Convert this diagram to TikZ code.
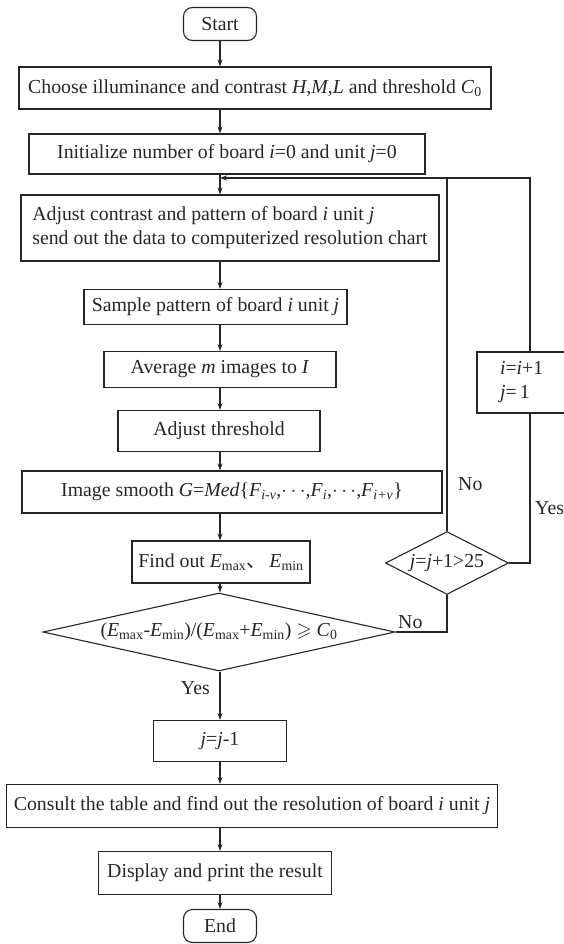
\documentclass[tikz,border=0pt]{standalone}
\usepackage{amssymb}
\usepackage{fontspec}
\setmainfont{Liberation Serif}
\newfontfamily\cjk{Noto Sans CJK SC}
\usetikzlibrary{shapes.geometric,arrows.meta}
\newcommand\myit[1]{\textit{#1}}
\begin{document}
\begin{tikzpicture}[x=1pt,y=-1pt,
  every node/.style={font=\fontsize{19.8}{24}\selectfont, text=black!85},
  box/.style={draw=black!85, line width=1.1pt, rectangle, inner sep=0pt, align=center},
  term/.style={draw=black!85, line width=1.1pt, rectangle, rounded corners=9pt, inner sep=0pt},
  dec/.style={draw=black!85, line width=1.1pt, diamond, inner sep=0pt},
  conn/.style={draw=black!85, line width=1.1pt},
  arr/.style={conn, -{Stealth[length=7pt,width=5pt]}},
  lbl/.style={inner sep=0pt}]
\useasboundingbox (0,0) rectangle (563,944);
\coordinate (ax) at (220,0);
\coordinate (m) at (220,178);

\node[term, minimum width=73pt, minimum height=33pt] (start) at (220,24) {Start};
\node[box, minimum width=472pt, minimum height=42pt] (b1) at (255,88)
  {Choose illuminance and contrast \myit{H},\myit{M},\myit{L} and threshold \myit{C}\textsubscript{0}};
\node[box, minimum width=396pt, minimum height=40pt] (b2) at (227,154)
  {Initialize number of board \myit{i}=0 and unit \myit{j}=0};
\node[box, minimum width=418pt, minimum height=66pt, align=left] (b3) at (230,228)
  {Adjust contrast and pattern of board \myit{i} unit \myit{j}\\send out the data to computerized resolution chart};
\node[box, minimum width=263pt, minimum height=35pt] (b4) at (215.5,307)
  {Sample pattern of board \myit{i} unit \myit{j}};
\node[box, minimum width=232pt, minimum height=36pt] (b5) at (220,369.5)
  {Average \myit{m} images to \myit{I}};
\node[box, minimum width=202pt, minimum height=41pt] (b6) at (219,431)
  {Adjust threshold};
\node[box, minimum width=420pt, minimum height=42pt] (b7) at (232,492)
  {Image smooth \myit{G}=\myit{Med}\{\myit{F}\textsubscript{\myit{i-v}},$\cdots$,\myit{F}\textsubscript{\myit{i}},$\cdots$,\myit{F}\textsubscript{\myit{i+v}}\}};
\node[box, minimum width=178pt, minimum height=42pt] (b8) at (221,562)
  {Find out \myit{E}\textsubscript{max}{\cjk 、}\,\myit{E}\textsubscript{min}};
\node[dec, aspect=4.5, minimum width=352pt, minimum height=78pt] (md) at (219,632)
  {(\myit{E}\textsubscript{max}-\myit{E}\textsubscript{min})/(\myit{E}\textsubscript{max}+\myit{E}\textsubscript{min}) $\geqslant$ \myit{C}\textsubscript{0}};
\node[dec, aspect=1.95, minimum width=123pt, minimum height=63pt] (sd) at (447,563)
  {\myit{j}=\myit{j}+1>25};
\node[box, minimum width=106pt, minimum height=61pt, text width=60pt, inner xsep=23pt, align=left] (ib) at (530,382.5)
  {\myit{i}=\myit{i}+1\\\myit{j}=\,1};
\node[box, minimum width=133pt, minimum height=41pt] (b9) at (220,741)
  {\myit{j}=\myit{j}-1};
\node[box, minimum width=491pt, minimum height=43pt] (b10) at (252,806)
  {Consult the table and find out the resolution of board \myit{i} unit \myit{j}};
\node[box, minimum width=233pt, minimum height=43pt] (b11) at (215,873)
  {Display and print the result};
\node[term, minimum width=73pt, minimum height=33pt] (end) at (220,926) {End};

\draw[arr] (start) -- (b1.north -| ax);
\draw[arr] (b1.south -| ax) -- (b2.north -| ax);
\draw[arr] (b2.south -| ax) -- (b3.north -| ax);
\draw[arr] (b3.south -| ax) -- (b4.north -| ax);
\draw[arr] (b4.south -| ax) -- (b5.north -| ax);
\draw[arr] (b5.south -| ax) -- (b6.north -| ax);
\draw[arr] (b6.south -| ax) -- (b7.north -| ax);
\draw[arr] (b7.south -| ax) -- (b8.north -| ax);
\draw[arr] (b8.south -| ax) -- (md.north -| ax);
\draw[arr] (md.south -| ax) -- (b9.north -| ax);
\draw[arr] (b9.south -| ax) -- (b10.north -| ax);
\draw[arr] (b10.south -| ax) -- (b11.north -| ax);
\draw[arr] (b11.south -| ax) -- (end);

\draw[conn] (md.east) -| (sd.south);
\draw[conn] (sd.north) -- (sd.north |- m);
\draw[conn] (sd.east) -| (ib.south);
\draw[arr] (ib.north) |- (m);

\node[lbl, anchor=west] (no1) at (458,484) {No};
\node[lbl, anchor=west] (yes1) at (535,508) {Yes};
\node[lbl, anchor=west] (no2) at (398,622) {No};
\node[lbl, anchor=east] (yes2) at (210,688) {Yes};
\end{tikzpicture}
\end{document}
